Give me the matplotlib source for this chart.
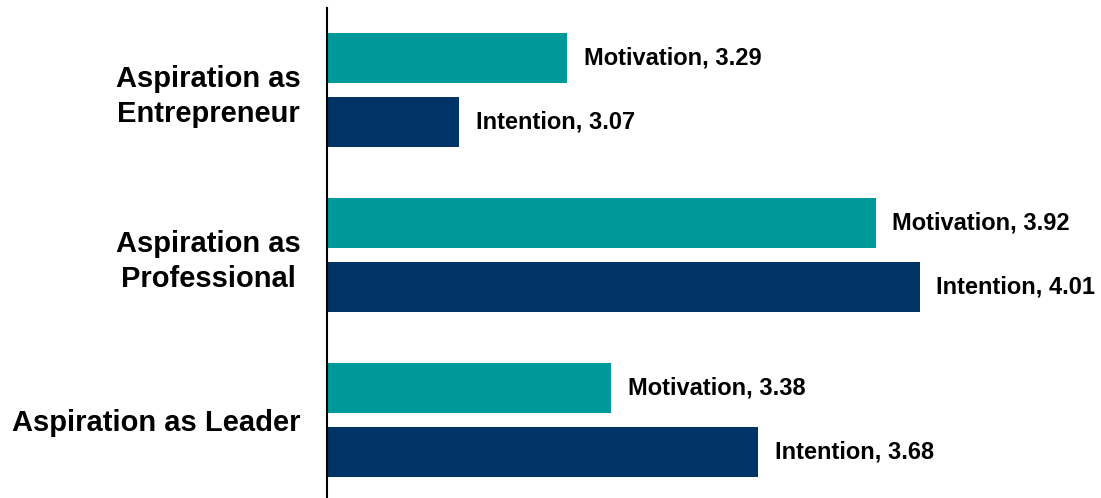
import matplotlib.pyplot as plt
import numpy as np

groups = ["Aspiration as\nEntrepreneur", "Aspiration as\nProfessional", "Aspiration as Leader"]
motivation = [3.29, 3.92, 3.38]
intention = [3.07, 4.01, 3.68]

teal = "#009999"
navy = "#003366"

plt.rcParams["font.family"] = ["Liberation Sans", "DejaVu Sans"]
plt.rcParams["font.weight"] = "bold"

fig = plt.figure(figsize=(11.01, 4.98), dpi=100)
ax = fig.add_axes([327 / 1101, 0, 1 - 327 / 1101, 1 - 8 / 498])

y = np.arange(len(groups))
h = 0.303
off = 0.194
base = 2.8

b1 = ax.barh(y - off, np.array(motivation) - base, left=base, height=h, color=teal)
b2 = ax.barh(y + off, np.array(intention) - base, left=base, height=h, color=navy)

ax.bar_label(b1, labels=[f"Motivation, {v:.2f}" for v in motivation],
             padding=12, fontsize=17, fontweight="bold")
ax.bar_label(b2, labels=[f"Intention, {v:.2f}" for v in intention],
             padding=12, fontsize=17, fontweight="bold")

ax.set_xlim(base, 4.38)
ax.set_ylim(2.473, -0.497)
ax.set_yticks(y)
ax.set_yticklabels(groups, fontsize=21, fontweight="bold",
                   multialignment="center", linespacing=1.3)
ax.tick_params(axis="y", length=0, pad=19)
ax.set_xticks([])

for s in ["top", "right", "bottom"]:
    ax.spines[s].set_visible(False)
ax.spines["left"].set_linewidth(1.5)
ax.spines["left"].set_color("black")

fig.savefig("out.png", dpi=100)
